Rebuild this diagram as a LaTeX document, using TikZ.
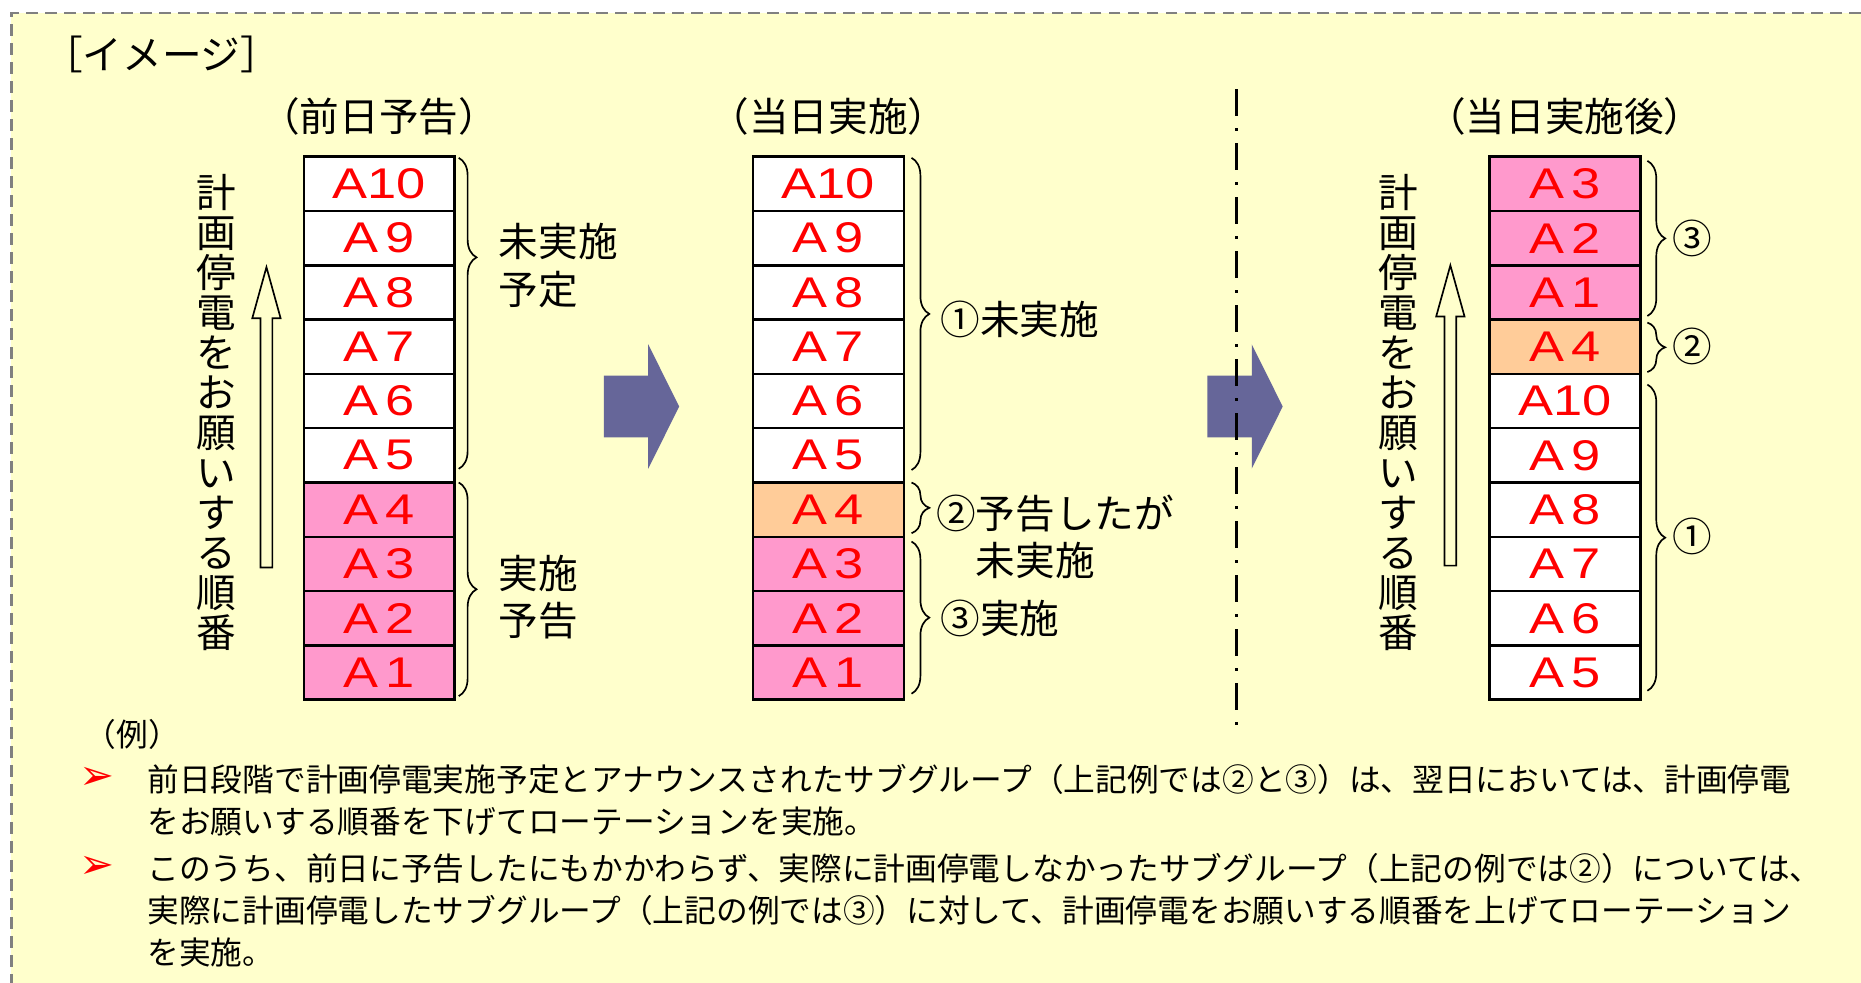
\documentclass[tikz,border=0pt]{standalone}
\usepackage{fontspec}
\newfontfamily\jp{Noto Sans CJK JP}
\newfontfamily\lblfont[FakeStretch=1.22]{Liberation Sans}
\newfontfamily\dingfont{DejaVu Sans}
\usetikzlibrary{shapes.arrows, calc, positioning, decorations.pathreplacing}
\definecolor{bgyellow}{HTML}{FFFFCC}
\definecolor{donepink}{HTML}{FF99CC}
\definecolor{skiporange}{HTML}{FFCC99}
\definecolor{arrowblue}{HTML}{666699}
\definecolor{framegray}{HTML}{808080}
\tikzstyle{cell} = [rectangle, line width=1.2pt, minimum width=2.54cm, minimum height=0.915cm, inner sep=0pt, outer sep=0pt, text centered, draw=black, fill=white, text=red, font=\lblfont\fontsize{20.6}{20.6}\selectfont]
\tikzstyle{pinkcell} = [cell, fill=donepink]
\tikzstyle{orangecell} = [cell, fill=skiporange]
\tikzstyle{curly} = [line width=0.8pt, decorate, decoration={brace, amplitude=0.3cm}]
\tikzstyle{bracetext} = [font=\jp\fontsize{19}{22.8}\selectfont, inner sep=0pt, align=left]
\tikzstyle{headtext} = [font=\jp\fontsize{19}{19}\selectfont, inner sep=0pt]
\tikzstyle{bodytext} = [font=\jp\fontsize{15.2}{20.2}\selectfont, inner sep=0pt, align=left, anchor=west]
\tikzstyle{ordertext} = [font=\jp\fontsize{19}{19.2}\selectfont, inner sep=0pt, align=center, text width=0.7cm]
\tikzstyle{bigarrow} = [single arrow, fill=arrowblue, draw=none, minimum height=1.27cm, inner xsep=0pt, inner ysep=0.515cm, single arrow head extend=0.525cm, single arrow tip angle=127]
\tikzstyle{uparrow} = [single arrow, draw=black, line width=0.8pt, rotate=90, minimum height=5.06cm, inner xsep=0pt, inner ysep=0.085cm, single arrow head extend=0.14cm, single arrow tip angle=31]
\tikzstyle{bullet} = [font=\dingfont\fontsize{20}{20}\selectfont, text=red, inner sep=0pt]

\begin{document}
\begin{tikzpicture}
	\useasboundingbox (0,0) rectangle (31.36,-16.56);
	% background and frame
	\fill [bgyellow] (0.19,-0.22) rectangle (31.36,-16.56);
	\draw [framegray, line width=1.3pt, dash pattern=on 0.2cm off 0.12cm] (31.36,-0.22) -- (0.19,-0.22) -- (0.19,-16.56);
	\node (title) [headtext, anchor=west] at (0.72,-0.92) {［イメージ］};

	% before: notice of the previous day
	\node (L10) [cell] at (6.39,-3.0975) {A10};
	\node (L9) [cell, below = 0pt of L10] {A\,9};
	\node (L8) [cell, below = 0pt of L9] {A\,8};
	\node (L7) [cell, below = 0pt of L8] {A\,7};
	\node (L6) [cell, below = 0pt of L7] {A\,6};
	\node (L5) [cell, below = 0pt of L6] {A\,5};
	\node (L4) [pinkcell, below = 0pt of L5] {A\,4};
	\node (L3) [pinkcell, below = 0pt of L4] {A\,3};
	\node (L2) [pinkcell, below = 0pt of L3] {A\,2};
	\node (L1) [pinkcell, below = 0pt of L2] {A\,1};
	\node (headL) [headtext, above = 0.36cm of L10] {（前日予告）};
	\draw [curly, decoration={aspect=0.32}] ([xshift=0.07cm, yshift=-0.02cm]L10.north east) -- ([xshift=0.07cm, yshift=0.23cm]L5.south east);
	\draw [curly] ([xshift=0.07cm]L4.north east) -- ([xshift=0.07cm, yshift=0.06cm]L1.south east);
	\node (planL) [bracetext, right = 0.74cm of L9.south east] {未実施\\予定};
	\node (doneL) [bracetext, right = 0.74cm of L2.north east, yshift=-0.1cm] {実施\\予告};
	\node (orderL) [ordertext] at (3.65,-6.95) {計\\画\\停\\電\\を\\お\\願\\い\\す\\る\\順\\番};
	\node (upL) [uparrow] at (4.49,-7.21) {};

	% the day itself
	\node (M10) [cell, right = 5.03cm of L10] {A10};
	\node (M9) [cell, below = 0pt of M10] {A\,9};
	\node (M8) [cell, below = 0pt of M9] {A\,8};
	\node (M7) [cell, below = 0pt of M8] {A\,7};
	\node (M6) [cell, below = 0pt of M7] {A\,6};
	\node (M5) [cell, below = 0pt of M6] {A\,5};
	\node (M4) [orangecell, below = 0pt of M5] {A\,4};
	\node (M3) [pinkcell, below = 0pt of M4] {A\,3};
	\node (M2) [pinkcell, below = 0pt of M3] {A\,2};
	\node (M1) [pinkcell, below = 0pt of M2] {A\,1};
	\node (headM) [headtext, above = 0.36cm of M10] {（当日実施）};
	\draw [curly] ([xshift=0.13cm, yshift=-0.02cm]M10.north east) -- ([xshift=0.13cm, yshift=0.21cm]M5.south east);
	\draw [curly] ([xshift=0.13cm]M4.north east) -- ([xshift=0.13cm, yshift=0.06cm]M4.south east);
	\draw [curly] ([xshift=0.13cm, yshift=-0.08cm]M3.north east) -- ([xshift=0.13cm, yshift=0.1cm]M1.south east);
	\node (planM) [bracetext, right = 0.61cm of M8.south east] {①未実施};
	\node (skipM) [bracetext, right = 0.54cm of M4.south east] {②予告したが\\\hspace*{1em}未実施};
	\node (doneM) [bracetext, right = 0.61cm of M2] {③実施};
	\node (goM) [bigarrow] at (10.68,-6.85) {};

	% after the day
	\node (R3) [pinkcell, right = 9.87cm of M10] {A\,3};
	\node (R2) [pinkcell, below = 0pt of R3] {A\,2};
	\node (R1) [pinkcell, below = 0pt of R2] {A\,1};
	\node (R4) [orangecell, below = 0pt of R1] {A\,4};
	\node (R10) [cell, below = 0pt of R4] {A10};
	\node (R9) [cell, below = 0pt of R10] {A\,9};
	\node (R8) [cell, below = 0pt of R9] {A\,8};
	\node (R7) [cell, below = 0pt of R8] {A\,7};
	\node (R6) [cell, below = 0pt of R7] {A\,6};
	\node (R5) [cell, below = 0pt of R6] {A\,5};
	\node (headR) [headtext, above = 0.36cm of R3] {（当日実施後）};
	\draw [curly] ([xshift=0.12cm, yshift=-0.07cm]R3.north east) -- ([xshift=0.12cm, yshift=0.06cm]R1.south east);
	\draw [curly] ([xshift=0.12cm, yshift=-0.05cm]R4.north east) -- ([xshift=0.12cm, yshift=0.03cm]R4.south east);
	\draw [curly] ([xshift=0.12cm, yshift=-0.18cm]R10.north east) -- ([xshift=0.12cm, yshift=0.15cm]R5.south east);
	\node (doneR) [bracetext, right = 0.54cm of R2] {③};
	\node (skipR) [bracetext, right = 0.54cm of R4] {②};
	\node (planR) [bracetext, right = 0.54cm of R8.south east] {①};
	\node (orderR) [ordertext] at (23.56,-6.95) {計\\画\\停\\電\\を\\お\\願\\い\\す\\る\\順\\番};
	\node (upR) [uparrow] at (24.44,-7.18) {};
	\node (goR) [bigarrow] at (20.85,-6.85) {};

	% separator
	\coordinate (sepTop) at (20.84,-1.5);
	\coordinate (sepBot) at (20.84,-12.22);
	\draw [line width=1.5pt, dash pattern=on 0.46cm off 0.2cm on 0.05cm off 0.2cm] (sepTop) -- (sepBot);

	% notes
	\node (ex) [bodytext] at (1.42,-12.37) {（例）};
	\node (b1) [bullet] at (1.63,-13.12) {➢};
	\node (b2) [bullet] at (1.63,-14.62) {➢};
	\node (p1) [bodytext] at (2.48,-13.49) {前日段階で計画停電実施予定とアナウンスされたサブグループ（上記例では②と③）は、翌日においては、計画停電\\をお願いする順番を下げてローテーションを実施。};
	\node (p2) [bodytext] at (2.48,-15.34) {このうち、前日に予告したにもかかわらず、実際に計画停電しなかったサブグループ（上記の例では②）については、\\実際に計画停電したサブグループ（上記の例では③）に対して、計画停電をお願いする順番を上げてローテーション\\を実施。};
\end{tikzpicture}
\end{document}
